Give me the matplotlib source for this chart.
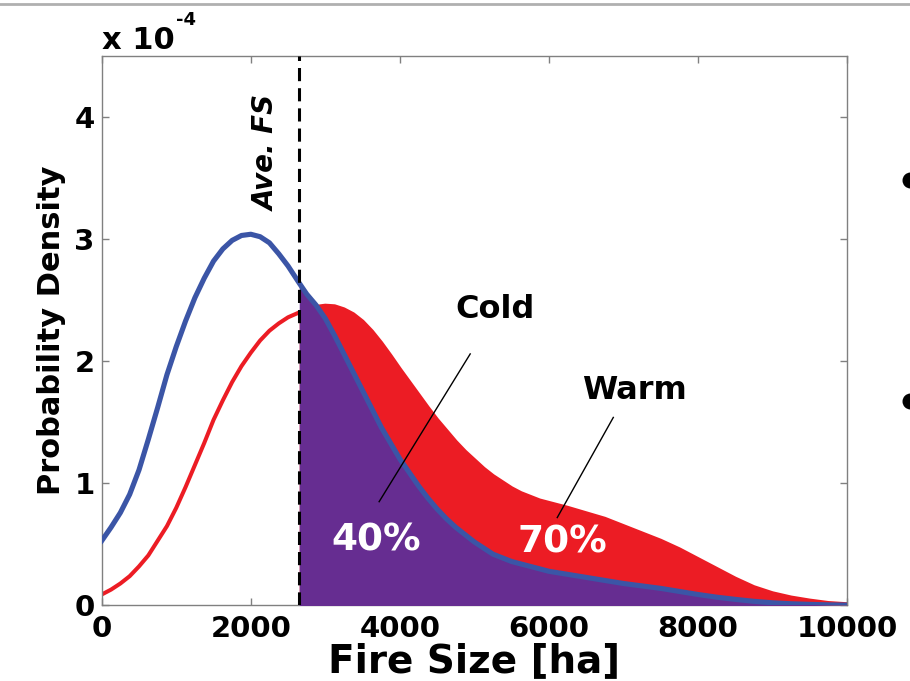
import matplotlib
matplotlib.use("Agg")
import matplotlib.pyplot as plt
from matplotlib.lines import Line2D
import numpy as np

# fire size grid [ha] and probability densities (x 1e-4)
fire_size = [0, 125, 250, 375, 500, 625, 750, 875, 1000, 1125, 1250, 1375, 1500,
             1625, 1750, 1875, 2000, 2125, 2250, 2375, 2500, 2650, 2750, 2875,
             3000, 3125, 3250, 3375, 3500, 3625, 3750, 3875, 4000, 4125, 4250,
             4375, 4500, 4625, 4750, 4875, 5000, 5125, 5250, 5375, 5500, 5625,
             5750, 5875, 6000, 6250, 6500, 6750, 7000, 7250, 7500, 7750, 8000,
             8250, 8500, 8750, 9000, 9250, 9500, 9750, 10000]
cold_pdf = [0.53, 0.64, 0.76, 0.91, 1.11, 1.36, 1.62, 1.89, 2.12, 2.33, 2.52, 2.68,
            2.82, 2.92, 2.99, 3.03, 3.04, 3.02, 2.97, 2.88, 2.78, 2.64, 2.55, 2.46,
            2.35, 2.21, 2.06, 1.91, 1.76, 1.61, 1.46, 1.33, 1.20, 1.09, 0.98,
            0.88, 0.79, 0.71, 0.64, 0.58, 0.52, 0.47, 0.42, 0.39, 0.36, 0.34,
            0.32, 0.30, 0.28, 0.255, 0.23, 0.205, 0.18, 0.16, 0.14, 0.115, 0.09,
            0.068, 0.05, 0.034, 0.022, 0.014, 0.009, 0.005, 0.003]
warm_pdf = [0.09, 0.13, 0.18, 0.24, 0.32, 0.41, 0.53, 0.65, 0.80, 0.97, 1.15, 1.33,
            1.52, 1.68, 1.83, 1.96, 2.07, 2.17, 2.25, 2.31, 2.36, 2.40, 2.425, 2.445,
            2.455, 2.45, 2.425, 2.385, 2.325, 2.245, 2.15, 2.045, 1.935, 1.83, 1.725,
            1.62, 1.52, 1.43, 1.34, 1.26, 1.19, 1.12, 1.06, 1.01, 0.96, 0.92,
            0.89, 0.86, 0.84, 0.80, 0.755, 0.71, 0.65, 0.59, 0.53, 0.46, 0.38,
            0.30, 0.22, 0.15, 0.10, 0.065, 0.04, 0.02, 0.01]
ave_fs = 2650
cold_share = "40%"
warm_share = "70%"
x_ticks = [0, 2000, 4000, 6000, 8000, 10000]
y_ticks = [0, 1, 2, 3, 4]

blue = "#3b55a6"
red = "#ec1c24"
purple = "#662d91"

fs = np.array(fire_size)
cold = np.array(cold_pdf)
warm = np.array(warm_pdf)
tail = fs >= ave_fs

fig = plt.figure(figsize=(9.1, 6.81), dpi=100)
ax = fig.add_axes([0.1118, 0.1109, 0.819, 0.8069])

ax.fill_between(fs[tail], 0, warm[tail], color=red, lw=0, zorder=1)
ax.plot(fs, warm, color=red, lw=2.9, solid_joinstyle="round", zorder=2)
ax.fill_between(fs[tail], 0, cold[tail], color=purple, lw=0, zorder=3)
ax.plot(fs, cold, color=blue, lw=3.7, solid_joinstyle="round", zorder=4)
ax.axvline(ave_fs, color="k", lw=2.2, ls=(0, (4.3, 2.3)), zorder=5)

ax.set_xlim(0, 10000)
ax.set_ylim(0, 4.5)
ax.set_xticks(x_ticks)
ax.set_yticks(y_ticks)
ax.set_xticklabels([str(t) for t in x_ticks])
ax.set_yticklabels([str(t) for t in y_ticks])
ax.tick_params(direction="in", length=5, width=1, color="#808080",
               top=True, right=True, labelsize=21)
ax.tick_params(axis="x", pad=6.5)
ax.tick_params(axis="y", pad=5)
for lab in ax.get_xticklabels() + ax.get_yticklabels():
    lab.set_fontweight("bold")
for sp in ax.spines.values():
    sp.set_color("#808080")
    sp.set_linewidth(1.0)

ax.set_xlabel("Fire Size [ha]", fontsize=28, fontweight="bold", labelpad=0)
ax.set_ylabel("Probability Density", fontsize=22, fontweight="bold", labelpad=6)

# exponent label
ax.text(0, 1.002, "x 10", transform=ax.transAxes, fontsize=22,
        fontweight="bold", ha="left", va="bottom")
ax.text(0.1, 1.05, "-4", transform=ax.transAxes, fontsize=13,
        fontweight="bold", ha="left", va="bottom")

ax.text(2219, 3.71, "Ave. FS", rotation=90, ha="center", va="center",
        fontsize=20, fontstyle="italic", fontweight="bold", zorder=6)

ax.text(5279, 2.42, "Cold", ha="center", va="center", fontsize=23,
        fontweight="bold", zorder=6)
ax.plot([4944, 3722], [2.06, 0.85], color="k", lw=1, zorder=6)
ax.text(7145, 1.76, "Warm", ha="center", va="center", fontsize=23,
        fontweight="bold", zorder=6)
ax.plot([6864, 6112], [1.54, 0.72], color="k", lw=1, zorder=6)

ax.text(3682, 0.534, cold_share, ha="center", va="center", fontsize=27,
        fontweight="bold", color="white", zorder=6)
ax.text(6179, 0.518, warm_share, ha="center", va="center", fontsize=27,
        fontweight="bold", color="white", zorder=6)

# slide decoration: top rule and clipped bullets
fig.add_artist(Line2D([0, 1], [0.994, 0.994], color="#b0b0b0", lw=2,
                      transform=fig.transFigure))
for yb in [1 - 180 / 681, 1 - 401 / 681]:
    fig.add_artist(Line2D([0.9995], [yb], marker="o", markersize=10.5,
                          color="k", transform=fig.transFigure))

fig.savefig("out.png", dpi=100)
